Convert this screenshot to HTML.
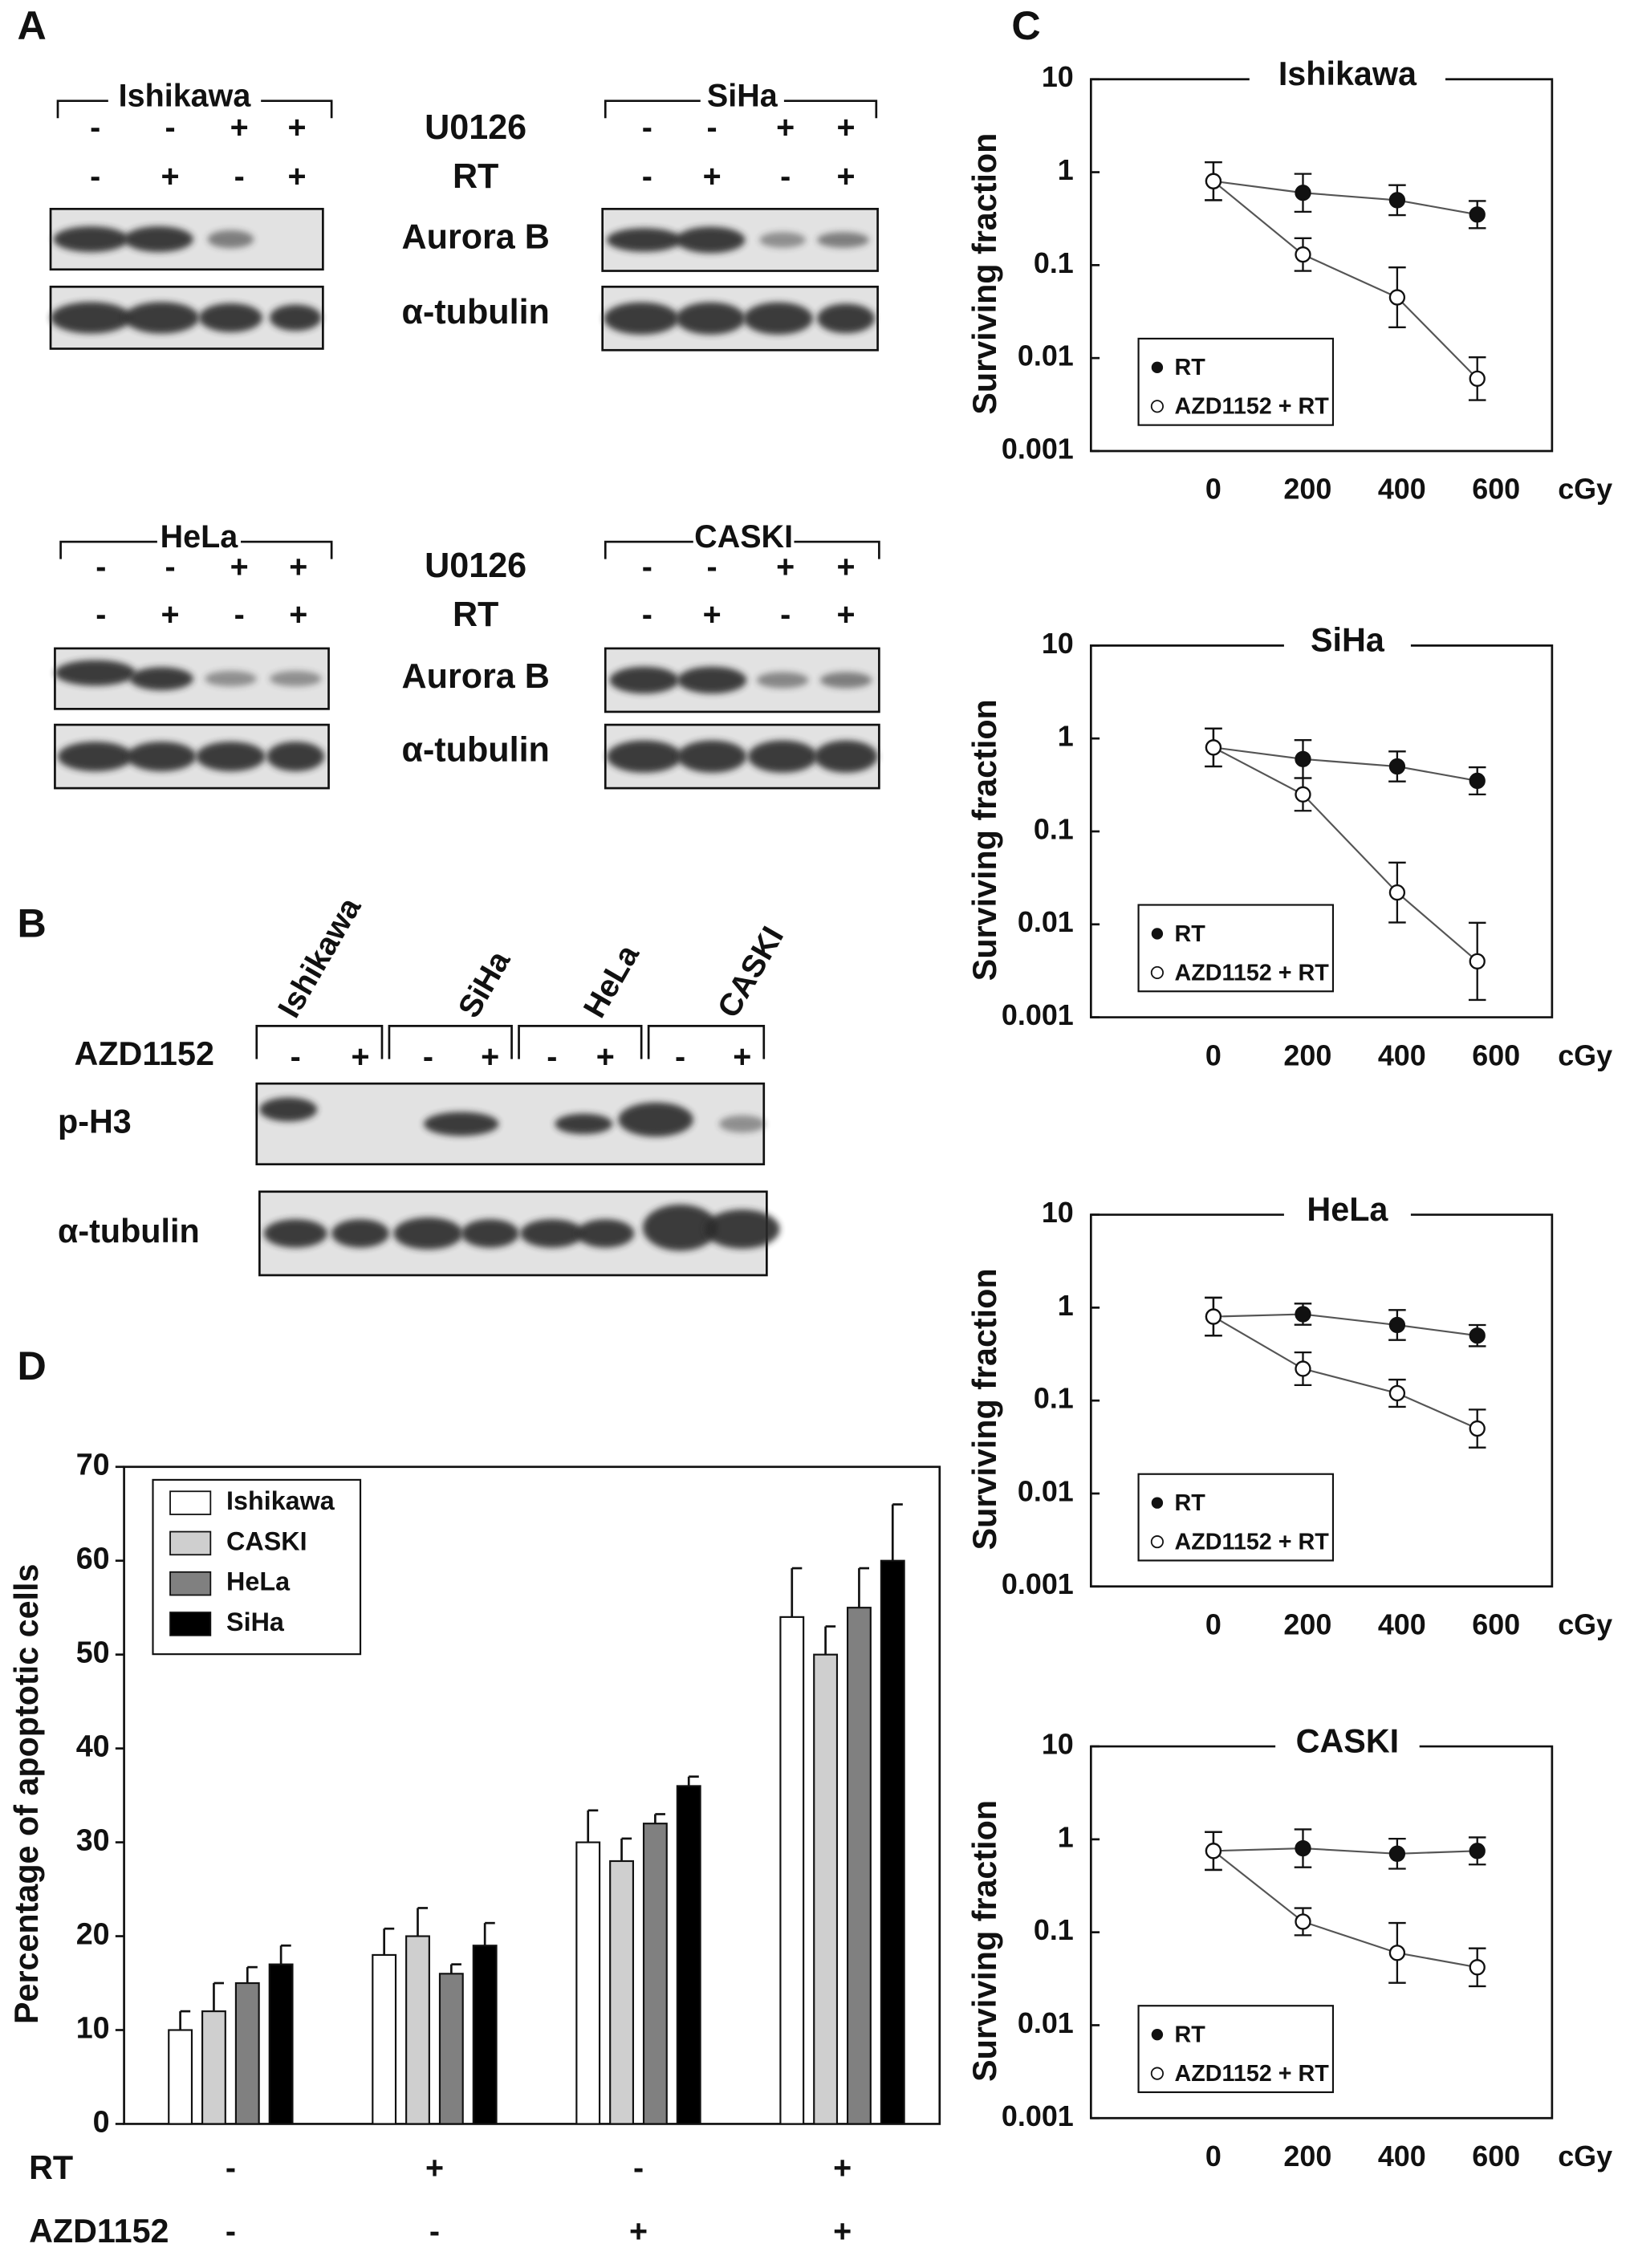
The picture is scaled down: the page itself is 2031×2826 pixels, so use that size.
<!DOCTYPE html>
<html><head><meta charset="utf-8"><style>
html,body{margin:0;padding:0;background:#fff}
svg{display:block}
text{font-family:"Liberation Sans",sans-serif;font-weight:bold;fill:#111}
</style></head><body>
<svg id="fig" width="2031" height="2826" viewBox="0 0 1131 1574" xmlns="http://www.w3.org/2000/svg">
<defs><filter id="bl" x="-20%" y="-50%" width="140%" height="200%"><feGaussianBlur stdDeviation="2.2"/></filter></defs>
<g id="blots"></g>
<g id="panelD"></g>
<g id="panelC"></g>
</svg>
<script>
const NS='http://www.w3.org/2000/svg';
function mk(p,tag,a,txt){const e=document.createElementNS(NS,tag);for(const k in a)e.setAttribute(k,a[k]);if(txt!==undefined)e.textContent=txt;p.appendChild(e);return e;}
function T(p,x,y,s,size,anchor,name){const e=mk(p,'text',{x:x,y:y,'font-size':size||22,'text-anchor':anchor||'middle','dominant-baseline':'middle'},s);

return e;}
const B=document.getElementById('blots');
T(B,22,20,'A',28,'middle','panel-a-letter');T(B,22,643,'B',28,'middle','panel-b-letter');
T(B,22,950,'D',28,'middle','panel-d-letter');T(B,712,20,'C',28,'middle','panel-c-letter');
function blot(x1,y1,x2,y2,bands,name){
 const g=mk(B,'g',{});
 
 
 mk(g,'rect',{x:x1,y:y1,width:x2-x1,height:y2-y1,fill:'#e2e2e2',stroke:'#111','stroke-width':1.5});
 bands.forEach(b=>{const e=mk(g,'ellipse',{cx:b[0],cy:(y1+y2)/2+(b[3]||0),rx:b[1],ry:b[2]*(y2-y1)/2*0.85,fill:'#2a2a2a',opacity:(b[4]||1)*0.9,filter:'url(#bl)'});
 
 });
}
function bracket(x1,x2,y,label,lx){
 mk(B,'path',{d:`M${x1} ${y+12}V${y}H${x2}V${y+12}`,fill:'none',stroke:'#111','stroke-width':1.5});
 const w=label.length*12+10;
 mk(B,'rect',{x:lx-w/2,y:y-4,width:w,height:8,fill:'#fff'});
 T(B,lx,y-2,label,22,'middle','cell-line-label');
}
function signs(xs,y,ss){xs.forEach((x,i)=>T(B,x,y,ss[i],22,'middle','sign'));}
bracket(40,230,70,'Ishikawa',128);signs([66,118,166,206],90,['-','-','+','+']);signs([66,118,166,206],124,['-','+','-','+']);
blot(35,145,224,187,[[63,26,.5],[110,24,.5],[160,16,.35,0,.6]],'ishikawa-aurora-b-blot');
blot(35,199,224,242,[[63,28,.6],[112,26,.6],[160,22,.55],[205,18,.5]],'ishikawa-tubulin-blot');
bracket(420,608,70,'SiHa',515);signs([449,494,545,587],90,['-','-','+','+']);signs([449,494,545,587],124,['-','+','-','+']);
blot(418,145,609,188,[[447,26,.45],[493,24,.5],[543,16,.3,0,.5],[585,18,.3,0,.6]],'siha-aurora-b-blot');
blot(418,199,609,243,[[445,26,.6],[493,24,.6],[540,24,.6],[587,20,.55]],'siha-tubulin-blot');
T(B,330,90,'U0126',24,'middle','u0126-label');T(B,330,124,'RT',24,'middle','rt-label');
T(B,330,166,'Aurora B',24,'middle','aurora-b-label');T(B,330,218,'α-tubulin',24,'middle','tubulin-label');
bracket(42,230,376,'HeLa',138);signs([70,118,166,207],395,['-','-','+','+']);signs([70,118,166,207],428,['-','+','-','+']);
blot(38,450,228,492,[[66,28,.5,-4],[112,22,.45],[160,18,.3,0,.5],[205,18,.3,0,.5]],'hela-aurora-b-blot');
blot(38,503,228,547,[[66,26,.55],[112,24,.55],[160,24,.55],[205,20,.55]],'hela-tubulin-blot');
bracket(420,610,376,'CASKI',516);signs([449,494,545,587],395,['-','-','+','+']);signs([449,494,545,587],428,['-','+','-','+']);
blot(420,450,610,494,[[447,24,.5],[494,24,.5],[543,18,.3,0,.55],[587,18,.3,0,.6]],'caski-aurora-b-blot');
blot(420,503,610,547,[[447,26,.6],[494,24,.6],[543,24,.6],[587,22,.6]],'caski-tubulin-blot');
T(B,330,394,'U0126',24,'middle','u0126-label');T(B,330,428,'RT',24,'middle','rt-label');
T(B,330,471,'Aurora B',24,'middle','aurora-b-label');T(B,330,522,'α-tubulin',24,'middle','tubulin-label');
[['Ishikawa',200],['SiHa',325],['HeLa',412],['CASKI',505]].forEach(c=>{const e=T(B,c[0],0,c[0],22,'start','rotated-cell-line');e.setAttribute('x',c[1]);e.setAttribute('y',705);e.setAttribute('transform',`rotate(-60 ${c[1]} 705)`);});
[[178,265],[270,355],[360,445],[450,530]].forEach(b=>mk(B,'path',{d:`M${b[0]} 735V712H${b[1]}V735`,fill:'none',stroke:'#111','stroke-width':1.5}));
T(B,100,733,'AZD1152',23,'middle','azd1152-label');signs([205,250,297,340,383,420,472,515],735,['-','+','-','+','-','+','-','+']);
T(B,40,780,'p-H3',23,'start','ph3-label');T(B,40,856,'α-tubulin',23,'start','tubulin-label');
blot(178,752,530,808,[[200,20,.35,-10],[320,26,.35],[405,20,.3],[455,26,.5,-3],[515,16,.25,0,.5]],'ph3-blot');
blot(180,827,532,885,[[205,22,.4],[250,20,.4],[297,24,.45],[340,20,.4],[383,22,.4],[420,20,.4],[472,26,.65,-4],[515,26,.55,-3]],'ph3-tubulin-blot');
</script>
<script>
const dGroups=['RT- AZD-','RT+ AZD-','RT- AZD+','RT+ AZD+'];
const dSeries=['Ishikawa','CASKI','HeLa','SiHa'];
const dIshikawa=[10,18,30,54];
const dCaski=[12,20,28,50];
const dHela=[15,16,32,55];
const dSiha=[17,19,36,60];
const dErrIshikawa=[2,2.8,3.4,5.2];
const dErrCaski=[3,3,2.4,3];
const dErrHela=[1.7,1,1,4.2];
const dErrSiha=[2,2.4,1,6];
const dTicks=[0,10,20,30,40,50,60,70];
const dRT=['-','+','-','+'];
const dAZD=['-','-','+','+'];
(function(){
 const G=document.getElementById('panelD');
 const x0=86,x1=652,yb=1474,yt=1018;
 const y=v=>yb-(v/70)*(yb-yt);
 const gx=i=>160+i*141.5;
 const cols=['#ffffff','#cfcfcf','#808080','#000000'];
 const vals=[dIshikawa,dCaski,dHela,dSiha],errs=[dErrIshikawa,dErrCaski,dErrHela,dErrSiha];
 const fr=mk(G,'rect',{x:x0,y:yt,width:x1-x0,height:yb-yt,fill:'none',stroke:'#111','stroke-width':1.5});
 
 dTicks.forEach(t=>{mk(G,'line',{x1:x0-6,x2:x0,y1:y(t),y2:y(t),stroke:'#111','stroke-width':1.5});T(G,x0-10,y(t),String(t),21,'end','y-tick-label');});
 const yt2=T(G,0,0,'Percentage of apoptotic cells',23,'middle','y-axis-title');yt2.setAttribute('transform','translate(20,1245) rotate(-90)');
 dGroups.forEach((g,i)=>{
  vals.forEach((s,j)=>{
   const bx=gx(i)-43+j*23.3, v=s[i], e=errs[j][i];
   mk(G,'line',{x1:bx+8,x2:bx+8,y1:y(v),y2:y(v+e),stroke:'#111','stroke-width':1.5});
   mk(G,'line',{x1:bx+8,x2:bx+15,y1:y(v+e),y2:y(v+e),stroke:'#111','stroke-width':1.5});
   const r=mk(G,'rect',{x:bx,y:y(v),width:16,height:yb-y(v),fill:cols[j],stroke:'#111','stroke-width':1.2});
   
   
  });
  T(G,gx(i),1506,dRT[i],22,'middle','rt-sign');T(G,gx(i),1550,dAZD[i],22,'middle','azd-sign');
 });
 T(G,20,1506,'RT',23,'start','rt-row-label');T(G,20,1550,'AZD1152',23,'start','azd-row-label');
 const lg=mk(G,'rect',{x:106,y:1027,width:144,height:121,fill:'#fff',stroke:'#111','stroke-width':1.2});
 
 dSeries.forEach((s,j)=>{const yy=1043+j*28;mk(G,'rect',{x:118,y:yy-8,width:28,height:16,fill:cols[j],stroke:'#111','stroke-width':1});T(G,157,yy,s,18,'start','legend-entry');});
})();
</script>
<script>
const cDoses=[0,190,390,560];
const cTicks=[0,200,400,600];
const cYTicks=['10','1','0.1','0.01','0.001'];
const cTitles=['Ishikawa','SiHa','HeLa','CASKI'];
const cRT=[[0.8,0.6,0.5,0.35],[0.8,0.6,0.5,0.35],[0.8,0.85,0.65,0.5],[0.75,0.8,0.7,0.75]];
const cAZD=[[0.8,0.13,0.045,0.006],[0.8,0.25,0.022,0.004],[0.8,0.22,0.12,0.05],[0.75,0.13,0.06,0.042]];
const cRTErr=[[1.6,1.6,1.45,1.4],[1.6,1.6,1.45,1.4],[1.6,1.3,1.45,1.3],[1.6,1.6,1.45,1.4]];
const cAZDErr=[[1.6,1.5,2.1,1.7],[1.6,1.5,2.1,2.6],[1.6,1.5,1.4,1.6],[1.6,1.4,2.1,1.6]];
(function(){
 const G=document.getElementById('panelC');
 const tops=[55,448,843,1212];
 const x0=757,x1=1077;
 const xs=d=>842+d*0.327;
 tops.forEach((top,p)=>{
  const bot=top+258;
  const y=v=>top+(1-Math.log10(v))*(bot-top)/4;
  const g=mk(G,'g',{});
  
  
  const tw=cTitles[p].length*12+40;
  mk(g,'path',{d:`M${935-tw/2} ${top}H${x0}V${bot}H${x1}V${top}H${935+tw/2}`,fill:'none',stroke:'#111','stroke-width':1.5});
  T(g,935,top-2,cTitles[p],23,'middle','plot-title');
  cYTicks.forEach((t,i)=>{const yy=top+i*(bot-top)/4;mk(g,'line',{x1:x0,x2:x0+6,y1:yy,y2:yy,stroke:'#111','stroke-width':1.5});T(g,745,yy,t,20,'end','y-tick-label');});
  cTicks.forEach(t=>T(g,xs(t),bot+28,String(t),20,'middle','x-tick-label'));
  T(g,1100,bot+28,'cGy',20,'middle','x-unit-label');
  const ty=T(g,0,0,'Surviving fraction',23,'middle','y-axis-title');ty.setAttribute('transform',`translate(685,${top+135}) rotate(-90)`);
  [[cRT,cRTErr,'#111'],[cAZD,cAZDErr,'#fff']].forEach(s=>{
   const v=s[0][p],e=s[1][p];
   mk(g,'polyline',{points:v.map((q,i)=>xs(cDoses[i])+','+y(q)).join(' '),fill:'none',stroke:'#555','stroke-width':1.2});
   v.forEach((q,i)=>{const cx=xs(cDoses[i]);
    mk(g,'line',{x1:cx,x2:cx,y1:y(q*e[i]),y2:y(q/e[i]),stroke:'#111','stroke-width':1.3});
    mk(g,'line',{x1:cx-6,x2:cx+6,y1:y(q*e[i]),y2:y(q*e[i]),stroke:'#111','stroke-width':1.3});
    mk(g,'line',{x1:cx-6,x2:cx+6,y1:y(q/e[i]),y2:y(q/e[i]),stroke:'#111','stroke-width':1.3});
    const c=mk(g,'circle',{cx:cx,cy:y(q),r:5,fill:s[2],stroke:'#111','stroke-width':1.3});
    
    
   });
  });
  const ly=top+180;
  const lr=mk(g,'rect',{x:790,y:ly,width:135,height:60,fill:'#fff',stroke:'#111','stroke-width':1.2});
  
  mk(g,'circle',{cx:803,cy:ly+20,r:4,fill:'#111'});T(g,815,ly+21,'RT',16,'start','legend-entry');
  mk(g,'circle',{cx:803,cy:ly+47,r:4,fill:'#fff',stroke:'#111'});T(g,815,ly+48,'AZD1152 + RT',16,'start','legend-entry');
 });
})();
</script>
</body></html>
